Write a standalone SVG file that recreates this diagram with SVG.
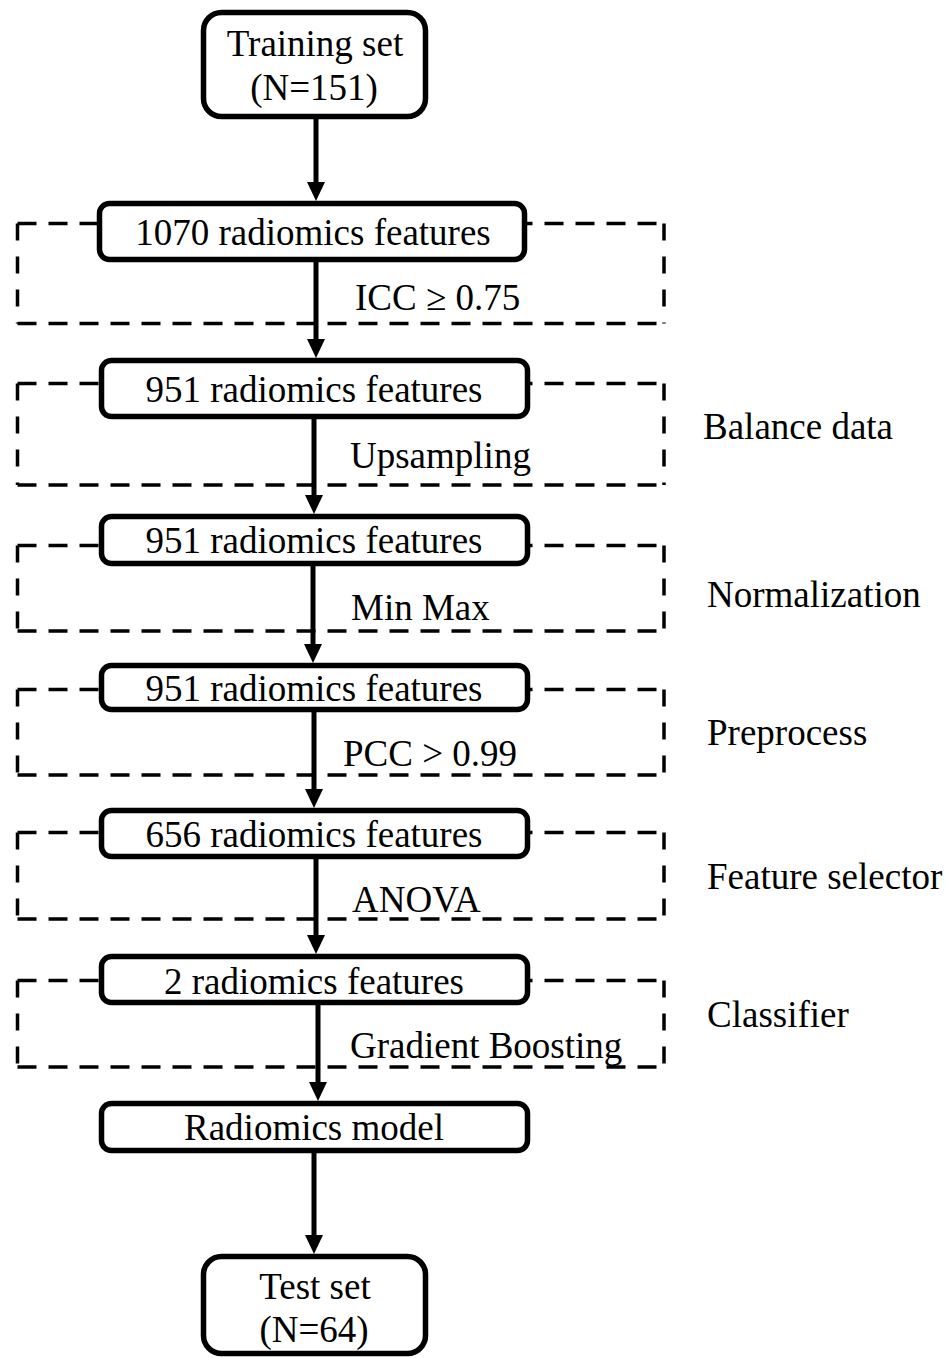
<svg xmlns="http://www.w3.org/2000/svg" width="946" height="1358" viewBox="0 0 946 1358">
<style>
.box{fill:#fff;stroke:#000;stroke-width:5.5}
.t{font-family:"Liberation Serif","Times New Roman",serif;font-size:37px;fill:#000}
.c{text-anchor:middle}
.dh{stroke:#000;stroke-width:3.5;stroke-dasharray:19 12;fill:none}
.dv{stroke:#000;stroke-width:3.5;stroke-dasharray:17 16;fill:none}
.conn{stroke:#000;stroke-width:5;fill:none}
</style>
<defs>
<marker id="ah" markerUnits="userSpaceOnUse" markerWidth="20" markerHeight="20" refX="0" refY="9" orient="auto" viewBox="0 0 20 18">
<path d="M0,0 L19,9 L0,18 z" fill="#000"/>
</marker>
</defs>
<rect width="946" height="1358" fill="#fff"/>
<g id="stages">
<g id="stage1"><path class="dh" d="M17.5,223.5 H664 M17.5,323.5 H664"/><path class="dv" d="M17.5,223.5 V323.5 M664,223.5 V323.5"/></g>
<g id="stage2"><path class="dh" d="M17.5,383.5 H664 M17.5,485 H664"/><path class="dv" d="M17.5,383.5 V485 M664,383.5 V485"/></g>
<g id="stage3"><path class="dh" d="M17.5,545.5 H664 M17.5,631 H664"/><path class="dv" d="M17.5,545.5 V631 M664,545.5 V631"/></g>
<g id="stage4"><path class="dh" d="M17.5,689.5 H664 M17.5,775 H664"/><path class="dv" d="M17.5,689.5 V775 M664,689.5 V775"/></g>
<g id="stage5"><path class="dh" d="M17.5,832.5 H664 M17.5,919 H664"/><path class="dv" d="M17.5,832.5 V919 M664,832.5 V919"/></g>
<g id="stage6"><path class="dh" d="M17.5,980.5 H664 M17.5,1067 H664"/><path class="dv" d="M17.5,980.5 V1067 M664,980.5 V1067"/></g>
</g>
<g id="connectors">
<line class="conn" x1="316" y1="119" x2="316" y2="182" marker-end="url(#ah)"/>
<line class="conn" x1="316" y1="262" x2="316" y2="339" marker-end="url(#ah)"/>
<line class="conn" x1="314" y1="419" x2="314" y2="495" marker-end="url(#ah)"/>
<line class="conn" x1="313" y1="566" x2="313" y2="644" marker-end="url(#ah)"/>
<line class="conn" x1="314" y1="712" x2="314" y2="789" marker-end="url(#ah)"/>
<line class="conn" x1="316" y1="859" x2="316" y2="935" marker-end="url(#ah)"/>
<line class="conn" x1="318" y1="1005" x2="318" y2="1082" marker-end="url(#ah)"/>
<line class="conn" x1="314" y1="1153" x2="314" y2="1235" marker-end="url(#ah)"/>
</g>
<g id="train"><rect class="box" x="203.5" y="12.5" width="222" height="104" rx="18"/><text class="t c" x="315" y="56">Training set</text><text class="t c" x="314" y="100">(N=151)</text></g>
<g id="f1070"><rect class="box" x="99.5" y="203.5" width="425" height="56" rx="10"/><text class="t c" x="313" y="245">1070 radiomics features</text></g>
<g id="f951a"><rect class="box" x="101.5" y="360.5" width="426" height="56" rx="10"/><text class="t c" x="314" y="402">951 radiomics features</text></g>
<g id="f951b"><rect class="box" x="101.5" y="516.5" width="426" height="47" rx="10"/><text class="t c" x="314" y="553">951 radiomics features</text></g>
<g id="f951c"><rect class="box" x="101.5" y="665.5" width="426" height="44" rx="10"/><text class="t c" x="314" y="701">951 radiomics features</text></g>
<g id="f656"><rect class="box" x="101.5" y="810.5" width="426" height="46" rx="10"/><text class="t c" x="314" y="847">656 radiomics features</text></g>
<g id="f2"><rect class="box" x="101.5" y="956.5" width="426" height="46" rx="10"/><text class="t c" x="314" y="994">2 radiomics features</text></g>
<g id="model"><rect class="box" x="101.5" y="1103.5" width="426" height="47" rx="10"/><text class="t c" x="314" y="1140">Radiomics model</text></g>
<g id="test"><rect class="box" x="203.5" y="1256.5" width="222" height="97" rx="18"/><text class="t c" x="315" y="1299">Test set</text><text class="t c" x="314" y="1342">(N=64)</text></g>
<g id="labels">
<text class="t" x="355" y="310">ICC ≥ 0.75</text>
<text class="t" x="350" y="468">Upsampling</text>
<text class="t" x="351" y="620">Min Max</text>
<text class="t" x="343" y="766">PCC &gt; 0.99</text>
<text class="t" x="352" y="912">ANOVA</text>
<text class="t" x="350" y="1058">Gradient Boosting</text>
<text class="t" x="703" y="439">Balance data</text>
<text class="t" x="707" y="607">Normalization</text>
<text class="t" x="707" y="745">Preprocess</text>
<text class="t" x="707" y="889">Feature selector</text>
<text class="t" x="707" y="1027">Classifier</text>
</g>
</svg>
